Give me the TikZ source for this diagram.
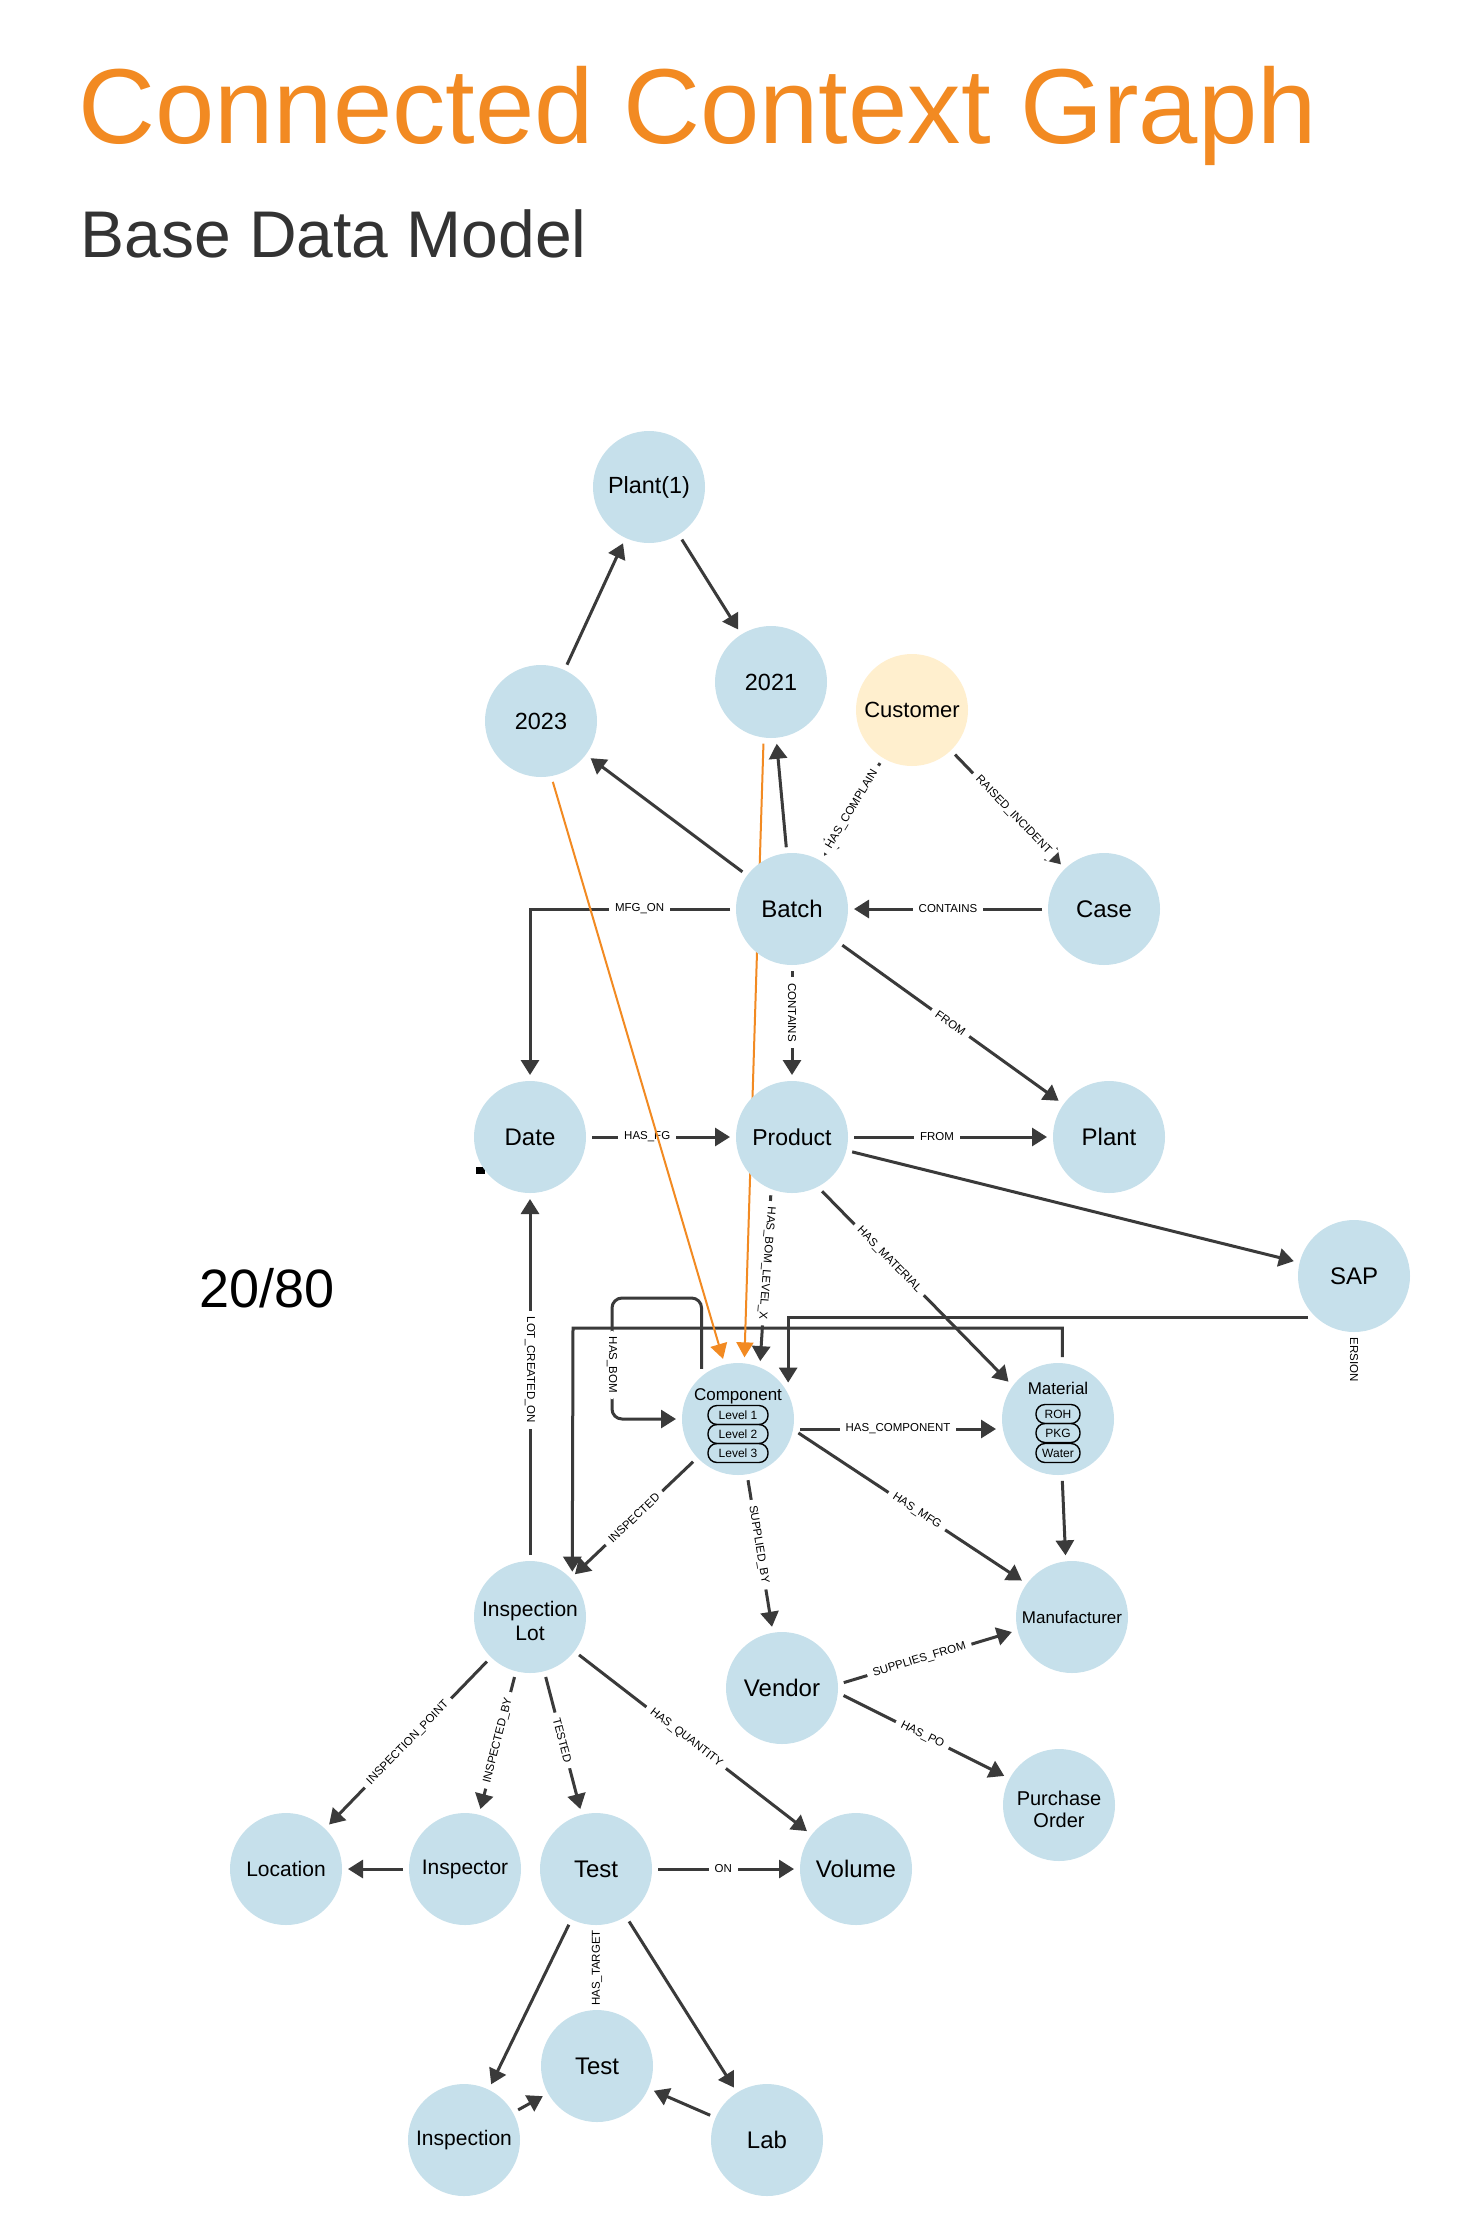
\documentclass[tikz,border=0pt]{standalone}
\usepackage{fontspec}
\setmainfont{Liberation Sans}
\usetikzlibrary{arrows.meta,calc}
\definecolor{nodeblue}{HTML}{C6E0EB}
\definecolor{custfill}{HTML}{FFEFCE}
\definecolor{edgegray}{HTML}{3A3A3A}
\definecolor{orangeT}{HTML}{F28A22}
\definecolor{subgray}{HTML}{333333}
\pgfdeclarelayer{bg}
\pgfdeclarelayer{mid}
\pgfsetlayers{bg,mid,main}
\tikzset{
  gnode/.style={circle, fill=nodeblue, minimum size=56pt, inner sep=0pt, outer sep=3pt, align=center, text=black, font=\fontsize{12}{14}\selectfont},
  edge/.style={draw=edgegray, line width=1.5pt, -{Triangle[length=7.5pt,width=9pt]}},
  oedge/.style={draw=orangeT, line width=1pt, -{Triangle[length=7.5pt,width=8.5pt]}},
  lbl/.style={fill=white, inner xsep=3pt, inner ysep=1.2pt, font=\fontsize{5.75}{6}\selectfont, text=black},
  lvlbox/.style={draw=black, line width=0.7pt, rounded corners=4.5pt, minimum height=9.5pt, inner sep=0pt, font=\fontsize{6}{7}\selectfont},
  intxt/.style={inner sep=0pt, font=\fontsize{8.5}{10}\selectfont}
}
\newcommand{\twolines}[2]{\raisebox{-3.5pt}[\height][\depth]{\begin{tabular}{@{}c@{}}#1\\#2\end{tabular}}}
\begin{document}
\begin{tikzpicture}[x=0.5pt,y=-0.5pt]
\useasboundingbox (0,0) rectangle (1482,2237);
\begin{pgfonlayer}{bg}
\fill[white] (0,0) rectangle (1482,2237);
\end{pgfonlayer}

% titles
\node[anchor=base west, inner sep=0pt, text=orangeT, font=\fontsize{53.3}{60}\selectfont] (title) at (78,143) {Connected Context Graph};
\node[anchor=base west, inner sep=0pt, text=subgray, font=\fontsize{33}{38}\selectfont] (subtitle) at (80,257) {Base Data Model};
\node[anchor=base west, inner sep=0pt, font=\fontsize{27}{30}\selectfont] (ratio) at (199,1307) {20/80};

% nodes
\node[gnode, font=\fontsize{11.7}{14}\selectfont] (p1) at (649,487) {Plant(1)};
\node[gnode, font=\fontsize{11.7}{14}\selectfont] (y2021) at (771,682) {2021};
\node[gnode, font=\fontsize{11.7}{14}\selectfont] (y2023) at (541,721) {2023};
\node[gnode, fill=custfill, font=\fontsize{11}{13}\selectfont] (cust) at (912,710) {Customer};
\node[gnode] (batch) at (792,909) {Batch};
\node[gnode] (case) at (1104,909) {Case};
\node[gnode] (date) at (530,1137) {Date};
\node[gnode, font=\fontsize{11.5}{14}\selectfont] (prod) at (792,1137) {Product};
\node[gnode] (plant) at (1109,1137) {Plant};
\node[gnode] (sap) at (1354,1276) {SAP};
\node[gnode] (comp) at (738,1419) {};
\node[gnode] (mat) at (1058,1419) {};
\node[gnode, font=\fontsize{10.5}{12}\selectfont] (insp) at (530,1617) {\twolines{Inspection}{Lot}};
\node[gnode] (vendor) at (782,1688) {Vendor};
\node[gnode, font=\fontsize{8.5}{10}\selectfont] (manu) at (1072,1617) {Manufacturer};
\node[gnode, font=\fontsize{10}{11}\selectfont] (po) at (1059,1805) {\twolines{Purchase}{Order}};
\node[gnode, font=\fontsize{10.5}{12}\selectfont] (loc) at (286,1869) {Location};
\node[gnode, font=\fontsize{10.5}{12}\selectfont] (inspr) at (465,1869) {Inspector};
\node[gnode] (test) at (596,1869) {Test};
\node[gnode] (vol) at (856,1869) {Volume};
\node[gnode] (test2) at (597,2066) {Test};
\node[gnode, font=\fontsize{10.5}{12}\selectfont] (inspn) at (464,2140) {Inspection};
\node[gnode] (lab) at (767,2140) {Lab};

% inner contents of Component and Material
\node[intxt] (comptxt) at (738,1396) {Component};
\node[lvlbox, minimum width=30pt] (lv1) at (738,1415) {Level 1};
\node[lvlbox, minimum width=30pt] (lv2) at (738,1434) {Level 2};
\node[lvlbox, minimum width=30pt] (lv3) at (738,1453) {Level 3};
\node[intxt] (mattxt) at (1058,1388) {Material};
\node[lvlbox, minimum width=22pt] (roh) at (1058,1414) {ROH};
\node[lvlbox, minimum width=22pt] (pkg) at (1058,1433) {PKG};
\node[lvlbox, minimum width=22pt] (water) at (1058,1453) {Water};

\coordinate (c1) at (573,1328);
\coordinate (c2) at (612,1298);

\begin{pgfonlayer}{bg}
\fill[black] (476,1167) rectangle (485,1174);
\node[inner sep=0pt, rotate=-90, font=\fontsize{5.75}{6}\selectfont] (ersion) at (1354,1360) {ERSION};
\node[inner sep=0pt, rotate=90, font=\fontsize{5.75}{6}\selectfont] (hastarget) at (597,1968) {HAS\_TARGET};

\draw[edge] (y2023) -- (p1);
\draw[edge] (p1) -- (y2021);
\draw[edge] (batch) -- (y2023);
\draw[edge] (batch) -- (y2021);
\draw[edge] (cust) -- node[lbl, sloped, pos=0.5] {HAS\_COMPLAIN} (batch);
\draw[edge] (cust) -- node[lbl, sloped, pos=0.55] {RAISED\_INCIDENT} (case);
\draw[edge] (case) -- node[lbl, pos=0.5] {CONTAINS} (batch);
\draw[edge] (batch) -| node[lbl, pos=0.226] {MFG\_ON} (date);
\draw[edge] (batch) -- node[lbl, rotate=-90, pos=0.4] {CONTAINS} (prod);
\draw[edge] (batch) -- node[lbl, sloped, pos=0.5] {FROM} (plant);
\draw[edge] (date) -- node[lbl, pos=0.4] {HAS\_FG} (prod);
\draw[edge] (prod) -- node[lbl, pos=0.43] {FROM} (plant);
\draw[edge] (prod) -- (sap);
\draw[edge] (mat.86) |- (c1) -- (insp.47);
\draw[edge] (sap.222.6) -| (comp.36);
\draw[edge] (prod.250) -- node[lbl, rotate=-94.5, pos=0.41] {HAS\_BOM\_LEVEL\_X} (comp.69);
\draw[edge] (prod.-61) -- node[lbl, sloped, pos=0.36] {HAS\_MATERIAL} (mat.143);
\draw[edge, rounded corners=5pt] (comp.126) |- (c2) |- node[lbl, rotate=-90, pos=0.277] {HAS\_BOM} (comp.west);
\draw[edge] ([yshift=-5pt]comp.east) -- node[lbl, pos=0.5] {HAS\_COMPONENT} ([yshift=-5pt]mat.west);
\draw[edge] (comp.-13) -- node[lbl, sloped, pos=0.53] {HAS\_MFG} (manu.144);
\draw[edge] (mat.-86) -- (manu.96);
\draw[edge] (comp) -- node[lbl, sloped, pos=0.5] {INSPECTED} (insp);
\draw[edge] (comp) -- node[lbl, sloped, pos=0.44] {SUPPLIED\_BY} (vendor);
\draw[edge] (insp) -- node[lbl, rotate=-90, pos=0.52] {LOT\_CREATED\_ON} (date);
\draw[edge] (insp) -- node[lbl, sloped, pos=0.5] {INSPECTION\_POINT} (loc);
\draw[edge] (insp) -- node[lbl, sloped, pos=0.48] {INSPECTED\_BY} (inspr);
\draw[edge] (insp) -- node[lbl, sloped, pos=0.48] {TESTED} (test);
\draw[edge] (insp) -- node[lbl, sloped, pos=0.47] {HAS\_QUANTITY} (vol);
\draw[edge] (inspr) -- (loc);
\draw[edge] (test) -- node[lbl, pos=0.48] {ON} (vol);
\draw[edge] (test) -- (inspn);
\draw[edge] (test) -- (lab);
\draw[edge] (inspn) -- (test2);
\draw[edge] (lab) -- (test2);
\draw[edge] (vendor.5) -- node[lbl, sloped, pos=0.45] {SUPPLIES\_FROM} (manu.194);
\draw[edge] (vendor.-7) -- node[lbl, sloped, pos=0.49] {HAS\_PO} (po.152);
\end{pgfonlayer}

\begin{pgfonlayer}{mid}
\draw[oedge] (y2023.-79) -- (comp.104);
\draw[oedge] (y2021.-97) -- (comp.84);
\end{pgfonlayer}
\end{tikzpicture}
\end{document}
